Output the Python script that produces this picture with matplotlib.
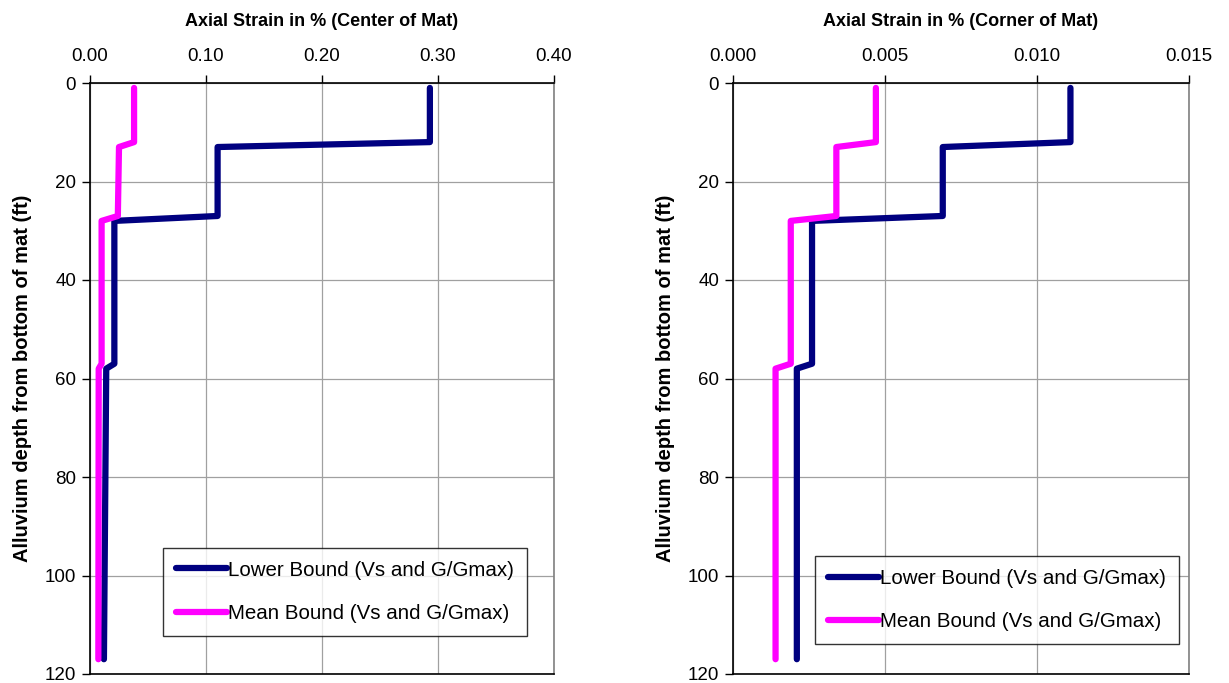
import matplotlib
matplotlib.use("Agg")
import matplotlib.pyplot as plt

plt.rcParams['font.family'] = ['Liberation Sans', 'DejaVu Sans']

# depth below bottom of mat (ft)
depth = [1, 12, 13, 27, 28, 57, 58, 117]

# axial strain in %, center of mat
center_lower = [0.293, 0.293, 0.110, 0.110, 0.021, 0.021, 0.014, 0.012]
center_mean = [0.038, 0.038, 0.025, 0.024, 0.010, 0.010, 0.0075, 0.0072]

# axial strain in %, corner of mat
corner_lower = [0.0111, 0.0111, 0.0069, 0.0069, 0.0026, 0.0026, 0.0021, 0.0021]
corner_mean = [0.0047, 0.0047, 0.0034, 0.0034, 0.0019, 0.0019, 0.0014, 0.0014]

labels = ['Lower Bound (Vs and G/Gmax)', 'Mean Bound (Vs and G/Gmax)']
colors = ['#000080', '#FF00FF']

fig = plt.figure(figsize=(12.29, 6.83), dpi=100)
ax1 = fig.add_axes([90/1229, 1-674/683, 464/1229, 591/683])
ax2 = fig.add_axes([733/1229, 1-674/683, 456/1229, 591/683])

panels = [
    (ax1, center_lower, center_mean, 'Axial Strain in % (Center of Mat)',
     [0, 0.1, 0.2, 0.3, 0.4], '%.2f', (0.55, 0.139)),
    (ax2, corner_lower, corner_mean, 'Axial Strain in % (Corner of Mat)',
     [0, 0.005, 0.01, 0.015], '%.3f', (0.579, 0.125)),
]

for ax, low, mean, title, xt, fmt, leg_pos in panels:
    ax.plot(low, depth, color=colors[0], lw=4.5, solid_capstyle='round',
            solid_joinstyle='round', label=labels[0])
    ax.plot(mean, depth, color=colors[1], lw=4.5, solid_capstyle='round',
            solid_joinstyle='round', label=labels[1])
    ax.set_xlim(xt[0], xt[-1])
    ax.set_ylim(120, 0)
    ax.set_xticks(xt)
    ax.set_xticklabels([fmt % v for v in xt])
    ax.set_yticks(range(0, 121, 20))
    ax.xaxis.tick_top()
    ax.xaxis.set_label_position('top')
    ax.tick_params(axis='both', labelsize=13.5, length=6, width=1, direction='out',
                   pad=4)
    ax.tick_params(axis='x', pad=7)
    ax.grid(True, color='#a0a0a0', lw=0.9)
    ax.set_axisbelow(True)
    ax.set_xlabel(title, fontsize=13, fontweight='bold', labelpad=16)
    ax.set_ylabel('Alluvium depth from bottom of mat (ft)', fontsize=14.5,
                  fontweight='bold', labelpad=9)
    for s in ax.spines.values():
        s.set_color('black')
        s.set_linewidth(1.2)
    ax.spines['right'].set_color('#808080')
    leg = ax.legend(loc='center', bbox_to_anchor=leg_pos, fontsize=14.8,
                    frameon=True, fancybox=False, edgecolor='black',
                    handlelength=2.5, handletextpad=0.05, labelspacing=1.2,
                    borderpad=0.62, borderaxespad=0)
    leg.get_frame().set_linewidth(1.0)

fig.savefig('out.png', dpi=100, facecolor='white')
